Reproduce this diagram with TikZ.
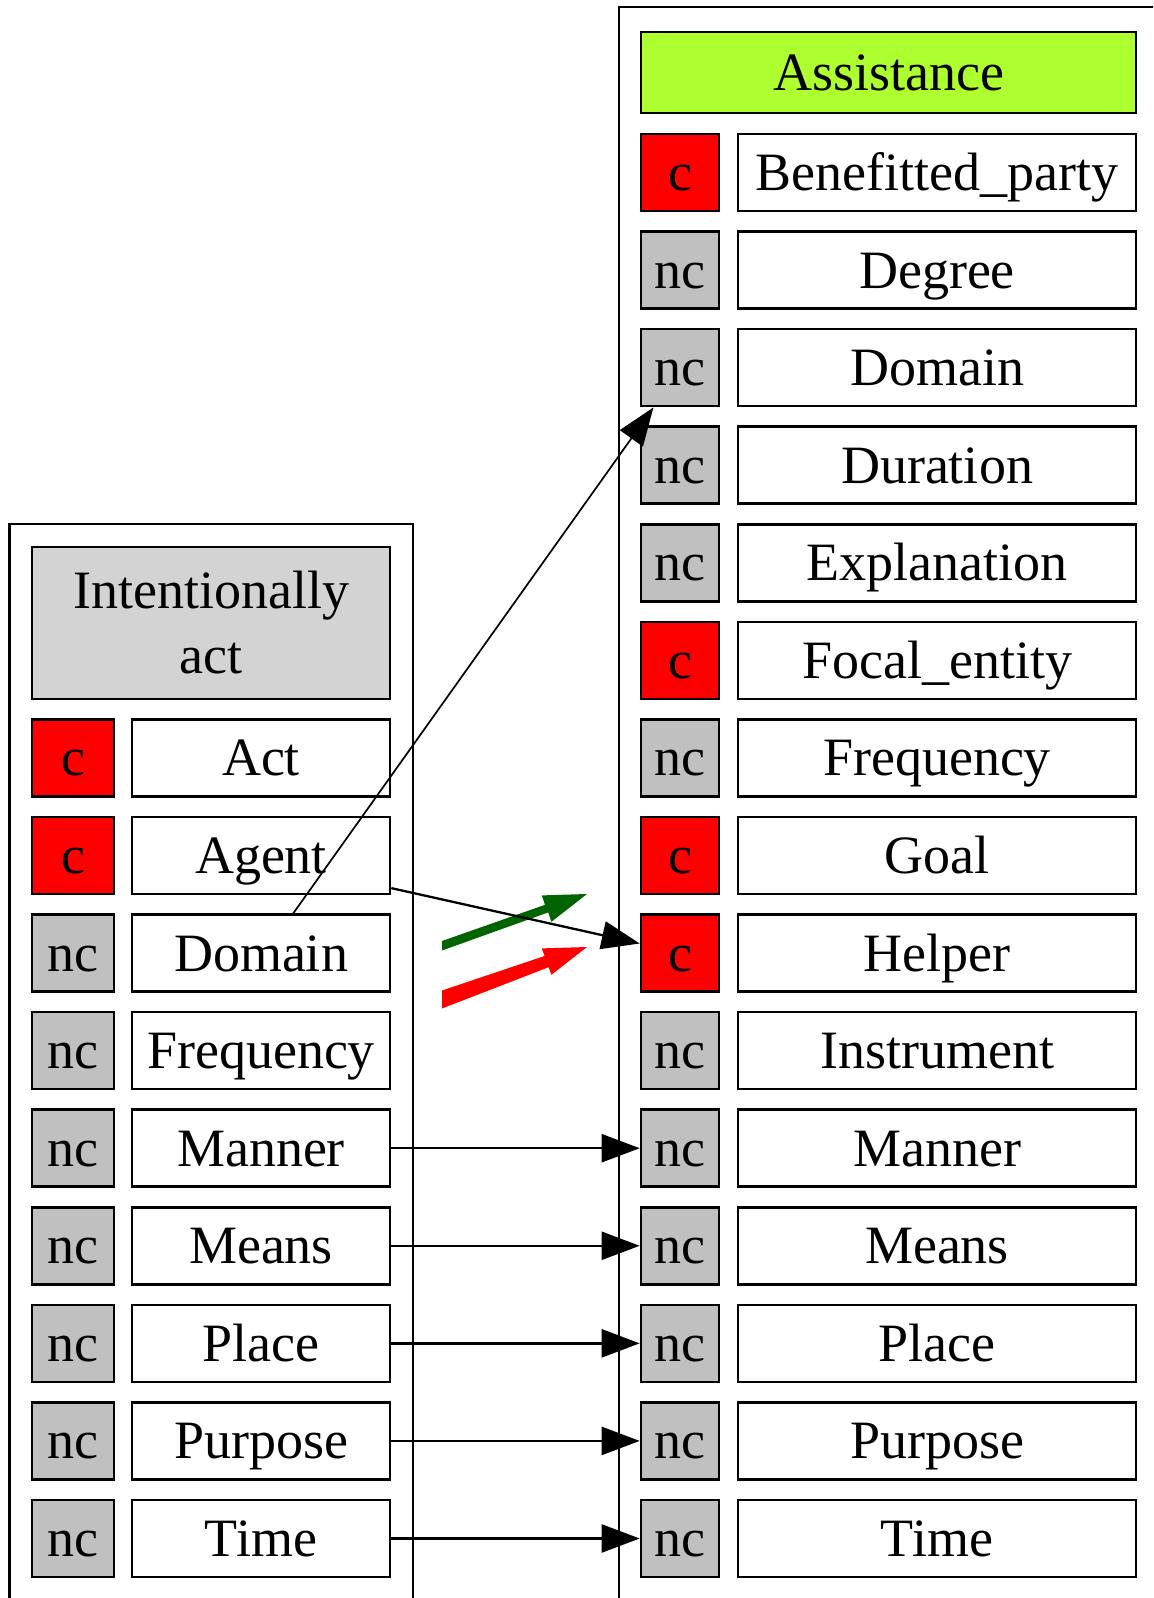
\documentclass[tikz,border=0pt]{standalone}
\usepackage{fontspec}
\setmainfont{Liberation Serif}
\usetikzlibrary{arrows.meta,calc}
\definecolor{tagred}{HTML}{FF0000}
\definecolor{taggray}{HTML}{C0C0C0}
\definecolor{titlegray}{HTML}{D3D3D3}
\definecolor{titlegreen}{HTML}{ADFF2F}
\definecolor{legendgreen}{HTML}{006400}

\begin{document}
\begin{tikzpicture}[x=0.5pt,y=-0.5pt,
  box/.style={draw, line width=1.3pt, inner sep=0pt, minimum height=38.5pt,
    font=\fontsize{27}{32.5}\selectfont, text height=18pt, text depth=0pt},
  tag c/.style={fill=tagred},
  tag nc/.style={fill=taggray},
  frame/.style={line width=1.1pt},
  conn/.style={line width=1.15pt, -{Triangle[length=19pt, width=14pt]}}]
\useasboundingbox (0,0) rectangle (1153,1598);
\clip (0,0) rectangle (1153,1598);

% frames around the two groups
\draw[frame] (9.5,1610) -- (9.5,524) -- (413,524) -- (413,1610);
\draw[frame] (619,1610) -- (619,7) -- (1170,7);

% right group: Assistance
\node[box, fill=titlegreen, minimum width=247.5pt, minimum height=40.5pt]
  (rtitle) at (888.5,72.5) {Assistance};
\foreach \t/\lab [count=\k from 0] in {c/Benefitted\_party, nc/Degree,
    nc/Domain, nc/Duration, nc/Explanation, c/Focal\_entity, nc/Frequency,
    c/Goal, c/Helper, nc/Instrument, nc/Manner, nc/Means, nc/Place,
    nc/Purpose, nc/Time}{
  \node[box, tag \t, minimum width=39pt] (rT\k) at (680,{172.5+97.57*\k}) {\t};
  \node[box, minimum width=199pt] (rL\k) at (937,{172.5+97.57*\k}) {\lab};
}

% left group: Intentionally act
\node[box, fill=titlegray, minimum width=179pt, minimum height=76pt,
  align=center, text height={}, text depth={}]
  (ltitle) at (211,623) {Intentionally\\act};
\foreach \t/\lab [count=\k from 6] in {c/Act, c/Agent, nc/Domain,
    nc/Frequency, nc/Manner, nc/Means, nc/Place, nc/Purpose, nc/Time}{
  \node[box, tag \t, minimum width=41pt] (lT\k) at (73,{172.5+97.57*\k}) {\t};
  \node[box, minimum width=129pt] (lL\k) at (261,{172.5+97.57*\k}) {\lab};
}

% legend arrows: tapered shafts with triangular heads
\fill[legendgreen] (442,941) -- (442,950.5) -- (548.2,912.4) -- (551.4,921.8)
  -- (587,894) -- (541.8,895.4) -- (545,904.8) -- cycle;
\fill[tagred] (442,990.5) -- (442,1008.5) -- (548.6,967.2) -- (551.4,974.8)
  -- (587,947) -- (541.8,948.4) -- (544.6,956) -- cycle;

% frame element mappings
\draw[conn, line width=0.85pt] ($(lL8.north west)!0.624!(lL8.north east)$)
  -- ($(rT2.south west)!0.17!(rT2.south east)$);
\draw[conn] ($(lL7.north east)!0.91!(lL7.south east)$)
  -- ($(rT8.north west)!0.38!(rT8.south west)$);
\foreach \k in {10,...,14}{
  \draw[conn] (lL\k.east) -- (rT\k.west);
}
\end{tikzpicture}
\end{document}
